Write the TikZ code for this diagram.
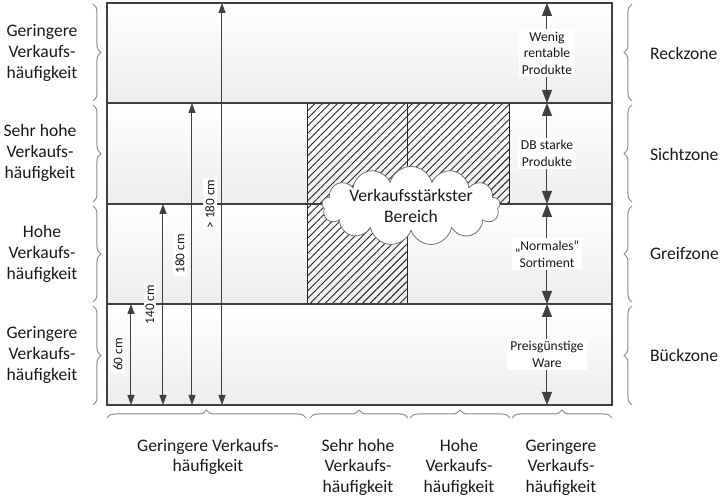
\documentclass[tikz,border=0pt]{standalone}
\usepackage{fontspec}
\setmainfont{Carlito}
\usetikzlibrary{shapes.symbols,patterns.meta,decorations.pathreplacing,arrows.meta}

\begin{document}
\begin{tikzpicture}[x=0.5pt,y=-0.5pt,
  row/.style={top color=white, bottom color=black!7, draw=none},
  grid/.style={draw=black!75, line width=0.6pt},
  hatch/.style={draw=black!85, line width=0.5pt, pattern={Lines[angle=45,distance=2.65pt,line width=0.45pt]}, pattern color=black!85},
  dim/.style={draw=black!75, line width=0.5pt, {Triangle[length=5pt,width=3.5pt]}-{Triangle[length=5pt,width=3.5pt]}},
  pfeil/.style={draw=black!75, line width=0.5pt, {Triangle[length=6.5pt,width=5pt]}-{Triangle[length=6.5pt,width=5pt]}},
  brc/.style={draw=black!45, line width=0.5pt, decorate, decoration={brace, amplitude=4pt}},
  big/.style={font=\fontsize{8.8}{10.3}\selectfont, align=center, text=black!90},
  small/.style={font=\fontsize{6.8}{8.2}\selectfont, align=center, text=black!90, fill=white, inner sep=1.5pt},
  dimlabel/.style={font=\fontsize{6.6}{8}\selectfont, text=black!90, fill=white, inner sep=1pt},
]
\useasboundingbox (0,0) rectangle (720,501);

% Regal
\fill[row] (107,3) rectangle (612,103);
\fill[row] (107,103) rectangle (612,204);
\fill[row] (107,204) rectangle (612,304);
\fill[row] (107,304) rectangle (612,405);
\path[hatch] (308,103) rectangle (408,304);
\path[hatch] (408,103) rectangle (510,204);
\draw[grid] (107,103) -- (612,103);
\draw[grid] (107,204) -- (612,204);
\draw[grid] (107,304) -- (612,304);
\draw[grid, line width=0.75pt] (107,3) rectangle (612,405);

% Hoehen
\coordinate (b60) at (131,405);  \coordinate (t60) at (131,304);
\coordinate (b140) at (163,405); \coordinate (t140) at (163,204);
\coordinate (b180) at (192,405); \coordinate (t180) at (192,103);
\coordinate (bmax) at (222,405); \coordinate (tmax) at (222,3);
\draw[dim] (b60) -- (t60) node[midway, xshift=-6.5pt, rotate=90, dimlabel] (l60) {60 cm};
\draw[dim] (b140) -- (t140) node[midway, xshift=-6.5pt, rotate=90, dimlabel] (l140) {140 cm};
\draw[dim] (b180) -- (t180) node[midway, xshift=-6pt, rotate=90, dimlabel] (l180) {180 cm};
\draw[dim] (bmax) -- (tmax) node[midway, xshift=-6pt, rotate=90, dimlabel] (lmax) {> 180 cm};

% Sortiment
\coordinate (r0) at (547,3);
\coordinate (r1) at (547,103);
\coordinate (r2) at (547,204);
\coordinate (r3) at (547,304);
\coordinate (r4) at (547,405);
\draw[pfeil] (r0) -- (r1) node[midway, small] (s1) {Wenig\\rentable\\Produkte};
\draw[pfeil] (r1) -- (r2) node[midway, small] (s2) {DB starke\\Produkte};
\draw[pfeil] (r2) -- (r3) node[midway, small] (s3) {„Normales“\\Sortiment};
\draw[pfeil] (r3) -- (r4) node[midway, small] (s4) {Preisgünstige\\Ware};

\node[cloud, cloud puffs=13, aspect=3.6, draw=black!55, fill=white, big, inner sep=0pt] (wolke) at (411,206) {Verkaufsstärkster\\Bereich};

% Klammern links
\draw[brc] (93,4) -- (93,101);
\draw[brc] (93,105) -- (93,202);
\draw[brc] (93,206) -- (93,302);
\draw[brc] (93,306) -- (93,405);
\node[big] (h1) at (42,53) {Geringere\\Verkaufs-\\häufigkeit};
\node[big] (h2) at (40,153) {Sehr hohe\\Verkaufs-\\häufigkeit};
\node[big] (h3) at (42,254) {Hohe\\Verkaufs-\\häufigkeit};
\node[big] (h4) at (42,355) {Geringere\\Verkaufs-\\häufigkeit};

% Klammern rechts
\draw[brc] (632,101) -- (632,4);
\draw[brc] (632,202) -- (632,105);
\draw[brc] (632,302) -- (632,206);
\draw[brc] (632,405) -- (632,306);
\node[big, anchor=west] (z1) at (643,53) {Reckzone};
\node[big, anchor=west] (z2) at (643,154) {Sichtzone};
\node[big, anchor=west] (z3) at (643,254) {Greifzone};
\node[big, anchor=west] (z4) at (643,355) {Bückzone};

% Klammern unten
\draw[brc] (107,418) -- (306,418);
\draw[brc] (310,418) -- (408,418);
\draw[brc] (410,418) -- (510,418);
\draw[brc] (512,418) -- (612,418);
\node[big, anchor=north] (v1) at (208,432) {Geringere Verkaufs-\\häufigkeit};
\node[big, anchor=north] (v2) at (358,432) {Sehr hohe\\Verkaufs-\\häufigkeit};
\node[big, anchor=north] (v3) at (459,432) {Hohe\\Verkaufs-\\häufigkeit};
\node[big, anchor=north] (v4) at (561,432) {Geringere\\Verkaufs-\\häufigkeit};
\end{tikzpicture}
\end{document}
